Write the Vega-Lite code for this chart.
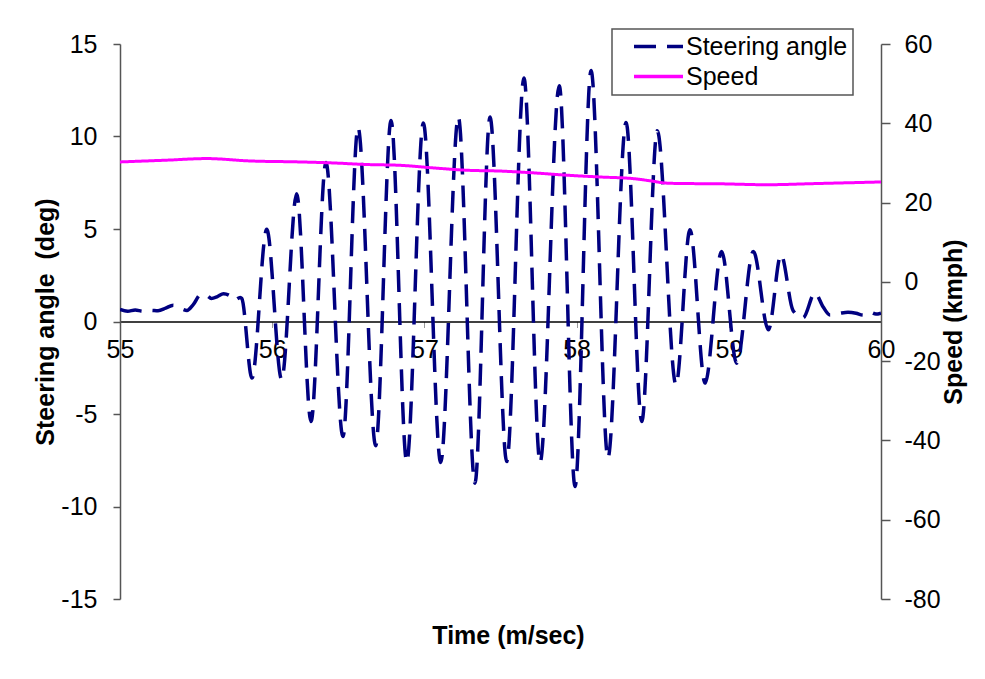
{
  "$schema": "https://vega.github.io/schema/vega-lite/v6.json",
  "width": 761,
  "height": 555,
  "autosize": {"type": "none"},
  "padding": {"left": 120, "top": 44, "right": 104, "bottom": 80},
  "background": "white",
  "config": {
    "view": {"stroke": null},
    "font": "Liberation Sans",
    "axis": {
      "grid": false,
      "labelFont": "Liberation Sans",
      "labelFontSize": 25,
      "labelColor": "#000000",
      "labelExpr": "'' + datum.value",
      "titleFont": "Liberation Sans",
      "titleFontSize": 25,
      "titleFontWeight": "bold",
      "titleColor": "#000000"
    },
    "legend": {
      "orient": "none",
      "legendX": 492,
      "legendY": -15,
      "title": null,
      "fillColor": "white",
      "strokeColor": "#555555",
      "strokeWidth": 1.5,
      "padding": 5,
      "rowPadding": 4,
      "clipHeight": 25,
      "symbolType": "stroke",
      "symbolSize": 2401,
      "symbolStrokeWidth": 3.5,
      "symbolOffset": 15,
      "labelOffset": 1,
      "labelLimit": 400,
      "labelFont": "Liberation Sans",
      "labelFontSize": 25,
      "labelColor": "#000000"
    }
  },
  "data": {
    "values": [
      {"t": 55.00, "series": "Steering angle", "value": 0.65},
      {"t": 55.05, "series": "Steering angle", "value": 0.55},
      {"t": 55.10, "series": "Steering angle", "value": 0.62},
      {"t": 55.15, "series": "Steering angle", "value": 0.55},
      {"t": 55.20, "series": "Steering angle", "value": 0.60},
      {"t": 55.25, "series": "Steering angle", "value": 0.58},
      {"t": 55.30, "series": "Steering angle", "value": 0.72},
      {"t": 55.35, "series": "Steering angle", "value": 0.88},
      {"t": 55.40, "series": "Steering angle", "value": 0.70},
      {"t": 55.44, "series": "Steering angle", "value": 0.60},
      {"t": 55.48, "series": "Steering angle", "value": 0.90},
      {"t": 55.53, "series": "Steering angle", "value": 1.45},
      {"t": 55.57, "series": "Steering angle", "value": 1.40},
      {"t": 55.60, "series": "Steering angle", "value": 1.25},
      {"t": 55.64, "series": "Steering angle", "value": 1.35},
      {"t": 55.68, "series": "Steering angle", "value": 1.50},
      {"t": 55.72, "series": "Steering angle", "value": 1.40},
      {"t": 55.75, "series": "Steering angle", "value": 1.15},
      {"t": 55.79, "series": "Steering angle", "value": 1.30},
      {"t": 55.80, "series": "Steering angle", "value": 1.25},
      {"t": 55.867, "series": "Steering angle", "value": -3.06},
      {"t": 55.964, "series": "Steering angle", "value": 4.98},
      {"t": 56.062, "series": "Steering angle", "value": -3.13},
      {"t": 56.161, "series": "Steering angle", "value": 6.91},
      {"t": 56.255, "series": "Steering angle", "value": -5.41},
      {"t": 56.353, "series": "Steering angle", "value": 8.6},
      {"t": 56.465, "series": "Steering angle", "value": -6.22},
      {"t": 56.564, "series": "Steering angle", "value": 10.49},
      {"t": 56.680, "series": "Steering angle", "value": -6.71},
      {"t": 56.781, "series": "Steering angle", "value": 10.87},
      {"t": 56.884, "series": "Steering angle", "value": -7.59},
      {"t": 56.993, "series": "Steering angle", "value": 10.73},
      {"t": 57.107, "series": "Steering angle", "value": -7.62},
      {"t": 57.223, "series": "Steering angle", "value": 11.05},
      {"t": 57.332, "series": "Steering angle", "value": -8.74},
      {"t": 57.431, "series": "Steering angle", "value": 11.05},
      {"t": 57.541, "series": "Steering angle", "value": -7.57},
      {"t": 57.654, "series": "Steering angle", "value": 13.16},
      {"t": 57.760, "series": "Steering angle", "value": -7.62},
      {"t": 57.886, "series": "Steering angle", "value": 12.75},
      {"t": 57.990, "series": "Steering angle", "value": -8.92},
      {"t": 58.095, "series": "Steering angle", "value": 13.57},
      {"t": 58.206, "series": "Steering angle", "value": -7.37},
      {"t": 58.325, "series": "Steering angle", "value": 10.76},
      {"t": 58.428, "series": "Steering angle", "value": -5.41},
      {"t": 58.530, "series": "Steering angle", "value": 10.31},
      {"t": 58.653, "series": "Steering angle", "value": -3.42},
      {"t": 58.745, "series": "Steering angle", "value": 4.96},
      {"t": 58.844, "series": "Steering angle", "value": -3.33},
      {"t": 58.953, "series": "Steering angle", "value": 3.79},
      {"t": 59.052, "series": "Steering angle", "value": -2.25},
      {"t": 59.161, "series": "Steering angle", "value": 3.79},
      {"t": 59.260, "series": "Steering angle", "value": -0.45},
      {"t": 59.343, "series": "Steering angle", "value": 3.61},
      {"t": 59.422, "series": "Steering angle", "value": 0.6},
      {"t": 59.488, "series": "Steering angle", "value": 0.2},
      {"t": 59.566, "series": "Steering angle", "value": 1.55},
      {"t": 59.619, "series": "Steering angle", "value": 0.8},
      {"t": 59.665, "series": "Steering angle", "value": 0.35},
      {"t": 59.731, "series": "Steering angle", "value": 0.45},
      {"t": 59.783, "series": "Steering angle", "value": 0.5},
      {"t": 59.836, "series": "Steering angle", "value": 0.45},
      {"t": 59.882, "series": "Steering angle", "value": 0.35},
      {"t": 59.928, "series": "Steering angle", "value": 0.5},
      {"t": 59.967, "series": "Steering angle", "value": 0.4},
      {"t": 60.00, "series": "Steering angle", "value": 0.45},
      {"t": 55.000, "series": "Speed", "value": 30.25},
      {"t": 55.307, "series": "Speed", "value": 30.7},
      {"t": 55.570, "series": "Speed", "value": 31.1},
      {"t": 55.854, "series": "Speed", "value": 30.5},
      {"t": 56.183, "series": "Speed", "value": 30.25},
      {"t": 56.400, "series": "Speed", "value": 30.0},
      {"t": 56.620, "series": "Speed", "value": 29.6},
      {"t": 56.840, "series": "Speed", "value": 29.4},
      {"t": 57.057, "series": "Speed", "value": 28.75},
      {"t": 57.280, "series": "Speed", "value": 28.15},
      {"t": 57.497, "series": "Speed", "value": 27.95},
      {"t": 57.714, "series": "Speed", "value": 27.5},
      {"t": 57.937, "series": "Speed", "value": 26.9},
      {"t": 58.154, "series": "Speed", "value": 26.45},
      {"t": 58.370, "series": "Speed", "value": 26.05},
      {"t": 58.482, "series": "Speed", "value": 25.5},
      {"t": 58.594, "series": "Speed", "value": 24.9},
      {"t": 58.699, "series": "Speed", "value": 24.8},
      {"t": 58.920, "series": "Speed", "value": 24.75},
      {"t": 59.249, "series": "Speed", "value": 24.5},
      {"t": 59.577, "series": "Speed", "value": 24.8},
      {"t": 60.000, "series": "Speed", "value": 25.2}
    ]
  },
  "layer": [
    {
      "transform": [{"filter": "datum.series === 'Steering angle'"}],
      "mark": {"type": "line", "interpolate": "monotone", "strokeWidth": 3.5, "strokeCap": "butt", "clip": true},
      "encoding": {
        "x": {
          "field": "t",
          "type": "quantitative",
          "scale": {"domain": [55, 60], "nice": false, "zero": false},
          "axis": {
            "title": "Time (m/sec)",
            "values": [55, 56, 57, 58, 59, 60],
            "offset": -277.5,
            "domainColor": "#000000",
            "domainWidth": 1.5,
            "tickColor": "#999999",
            "tickSize": 6,
            "labelPadding": 10,
            "labelFlush": false,
            "labelOverlap": false,
            "titleX": 388,
            "titleY": 322,
            "titleBaseline": "alphabetic"
          }
        },
        "y": {
          "field": "value",
          "type": "quantitative",
          "scale": {"domain": [-15, 15], "nice": false},
          "axis": {
            "orient": "left",
            "title": "Steering angle\u00a0 (deg)",
            "values": [-15, -10, -5, 0, 5, 10, 15],
            "domainColor": "#555555",
            "domainWidth": 1.5,
            "tickColor": "#555555",
            "tickWidth": 1.5,
            "tickSize": 7,
            "labelPadding": 16,
            "titlePadding": 2
          }
        },
        "color": {
          "field": "series",
          "type": "nominal",
          "scale": {"domain": ["Steering angle", "Speed"], "range": ["#000080", "#FF00FF"]}
        },
        "strokeDash": {
          "field": "series",
          "type": "nominal",
          "scale": {"domain": ["Steering angle", "Speed"], "range": [[22, 11], [1, 0]]}
        }
      }
    },
    {
      "transform": [{"filter": "datum.series === 'Speed'"}],
      "mark": {"type": "line", "interpolate": "monotone", "strokeWidth": 3, "clip": true},
      "encoding": {
        "x": {"field": "t", "type": "quantitative"},
        "y": {
          "field": "value",
          "type": "quantitative",
          "scale": {"domain": [-80, 60], "nice": false},
          "axis": {
            "orient": "right",
            "title": "Speed (kmph)",
            "values": [-80, -60, -40, -20, 0, 20, 40, 60],
            "domainColor": "#555555",
            "domainWidth": 1.5,
            "tickColor": "#555555",
            "tickWidth": 1.5,
            "tickSize": 9,
            "labelPadding": 14,
            "titleAngle": 270,
            "titlePadding": 26
          }
        },
        "color": {"field": "series", "type": "nominal"},
        "strokeDash": {"field": "series", "type": "nominal"}
      }
    }
  ],
  "resolve": {"scale": {"y": "independent"}}
}
